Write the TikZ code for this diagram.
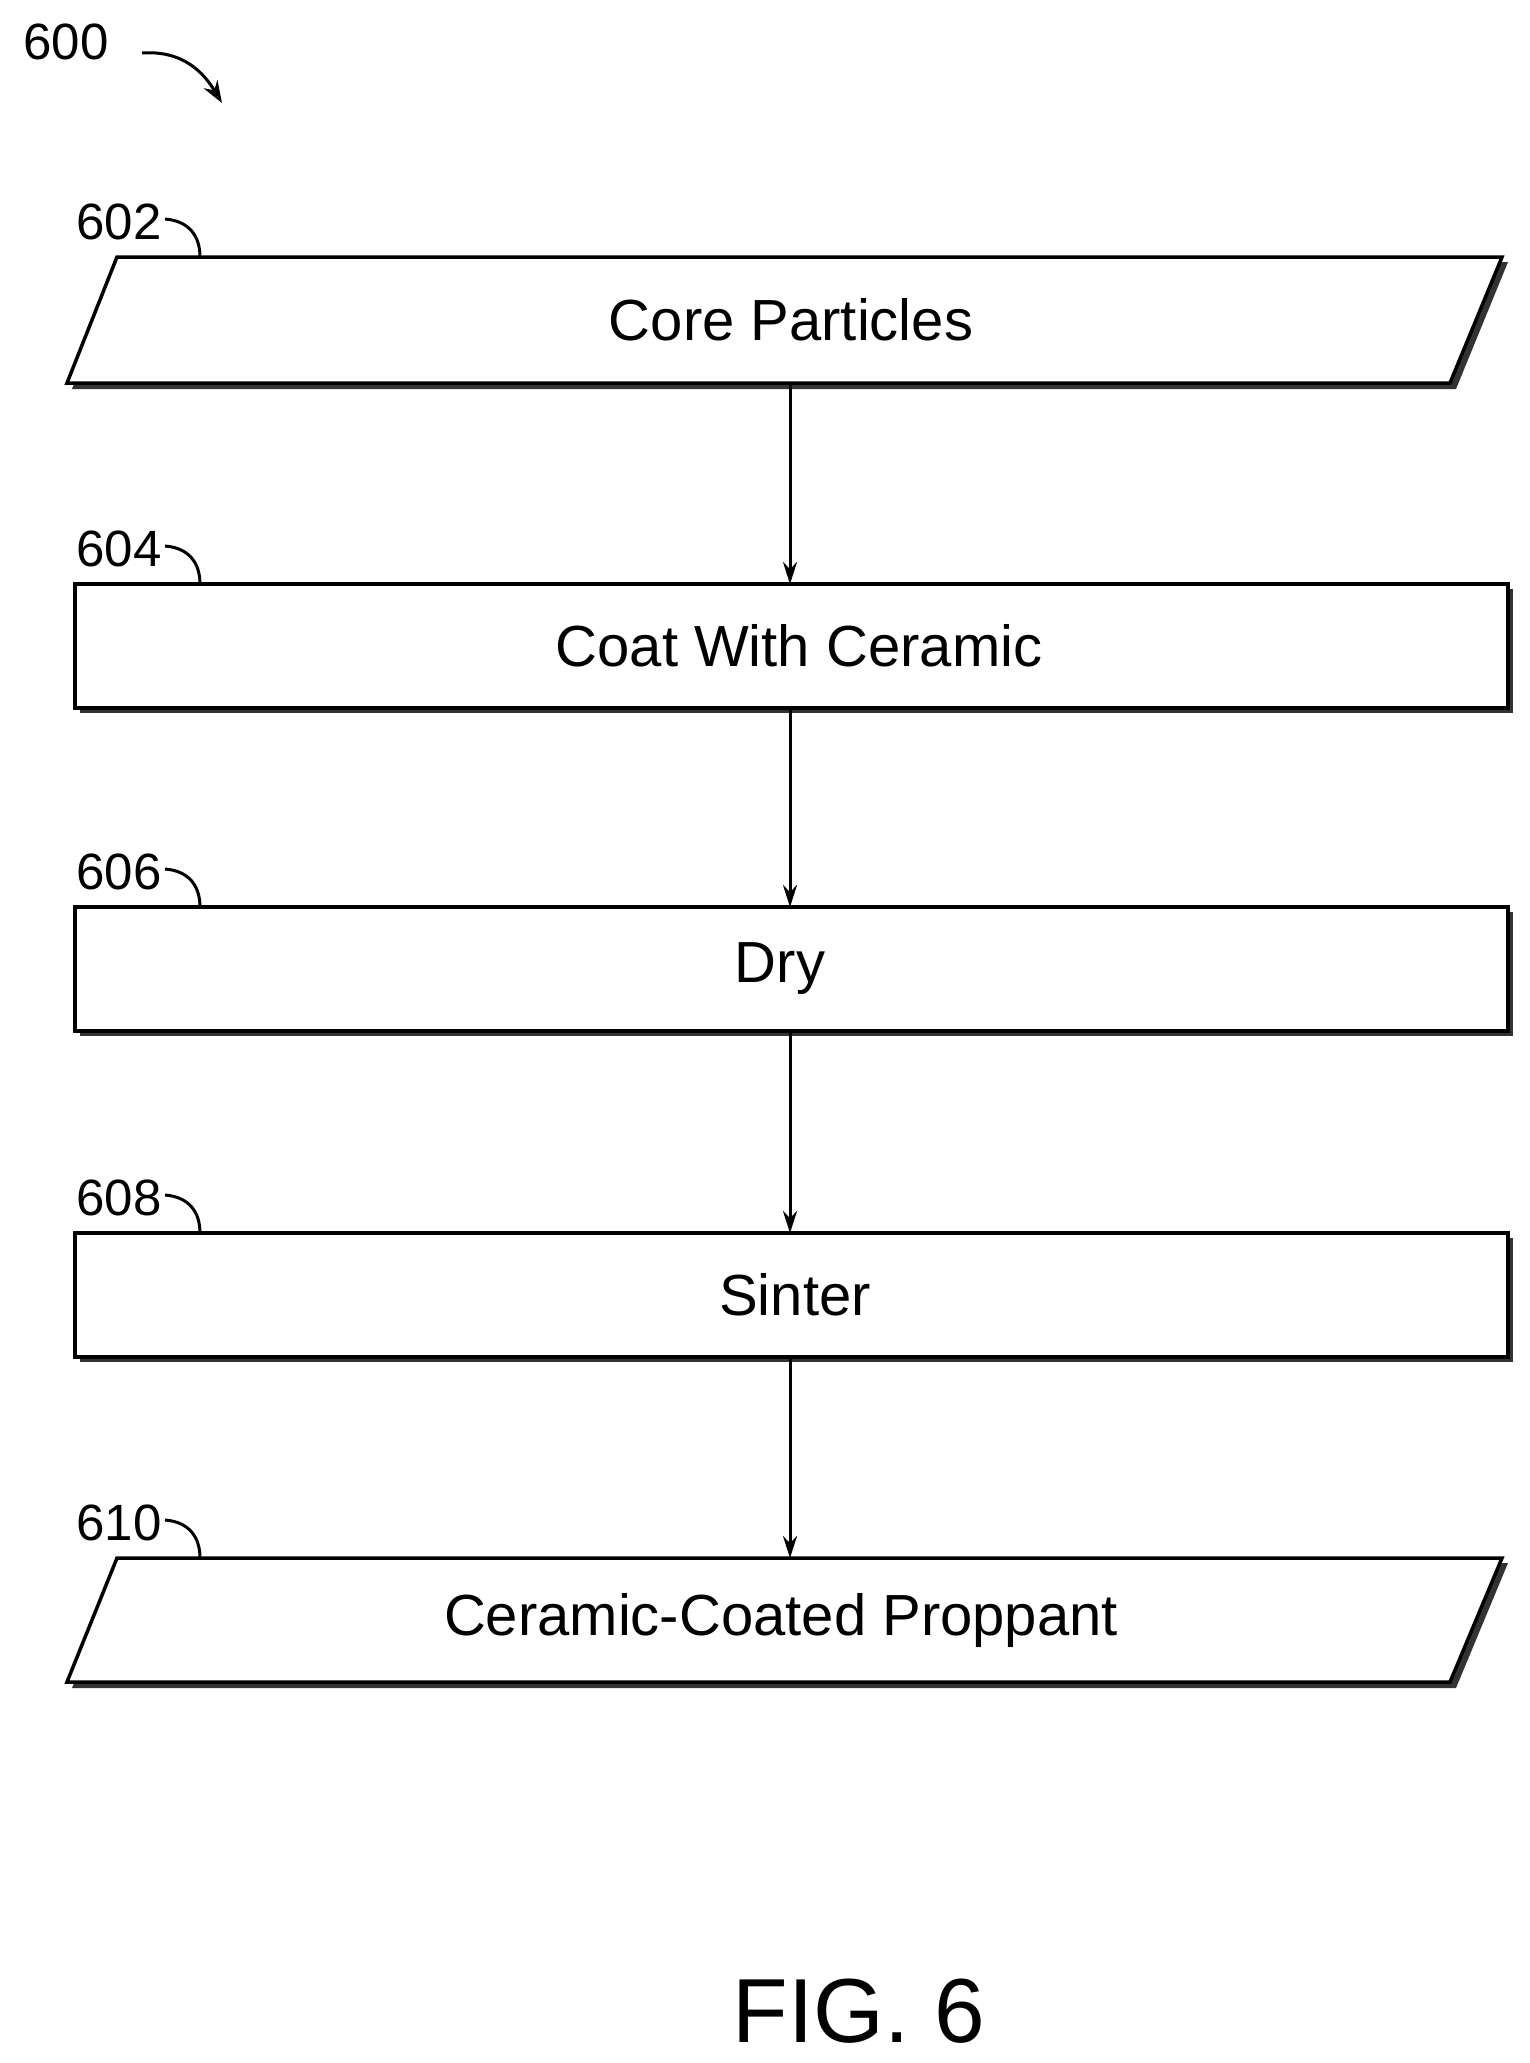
\documentclass[tikz,border=0pt]{standalone}
\usepackage{fontspec}
\setmainfont{Liberation Sans}
\usetikzlibrary{arrows.meta}
\begin{document}
\begin{tikzpicture}[x=1pt,y=-1pt,
  box/.style={draw=black,line width=3.5pt,fill=white},
  shad/.style={fill=black!80},
  txt/.style={font=\fontsize{58}{62}\selectfont},
  lbl/.style={font=\fontsize{51}{55}\selectfont,anchor=center},
  curl/.style={line width=3pt},
  arr/.style={line width=3pt,-{Stealth[length=22pt,width=14pt]}}]
\useasboundingbox (0,0) rectangle (1530,2063);
% parallelogram 602
\fill[shad] (122,262) -- (1508,262) -- (1456,389) -- (72,389) -- cycle;
\draw[box] (117,257) -- (1502,257) -- (1450,383) -- (67,383) -- cycle;
\node[txt] (n602) at (791,320) {Core Particles};
% rectangles
\foreach \t/\b/\nm in {584/708/n604, 907/1031/n606, 1233/1357/n608}{
  \fill[shad] (80,\t+5) rectangle (1513,\b+5);
  \draw[box] (75,\t) rectangle (1508,\b);
}
\node[txt] (t604) at (799,646) {Coat With Ceramic};
\node[txt] (t606) at (780,969) {Dry};
\node[txt] (t608) at (795,1295) {Sinter};
% parallelogram 610
\fill[shad] (122,1563) -- (1508,1563) -- (1456,1688) -- (72,1688) -- cycle;
\draw[box] (117,1558) -- (1502,1558) -- (1450,1682) -- (67,1682) -- cycle;
\node[txt] (t610) at (781,1620) {Ceramic-Coated Proppant};
% arrows
\coordinate (a1) at (790,383); \coordinate (b1) at (790,584);
\coordinate (a2) at (790,708); \coordinate (b2) at (790,907);
\coordinate (a3) at (790,1031); \coordinate (b3) at (790,1233);
\coordinate (a4) at (790,1357); \coordinate (b4) at (790,1558);
\draw[arr] (a1) -- (b1);
\draw[arr] (a2) -- (b2);
\draw[arr] (a3) -- (b3);
\draw[arr] (a4) -- (b4);
% labels
\foreach \y/\t/\n in {257/602/l602, 584/604/l604, 907/606/l606, 1233/608/l608, 1558/610/l610}{
  \node[lbl] (\n) at (119,\y-35) {\t};
  \draw[curl] (165,\y-38) .. controls (190,\y-36) and (200,\y-20) .. (200,\y);
}
% 600
\node[lbl] (l600) at (66,42) {600};
\coordinate (c600) at (222,103);
\draw[line width=3pt,-{Stealth[length=22pt,width=16pt]}] (142,53) .. controls (185,50) and (205,75) .. (c600);
\node[font=\fontsize{91}{95}\selectfont] (fig) at (859,2011) {FIG. 6};
\end{tikzpicture}
\end{document}
